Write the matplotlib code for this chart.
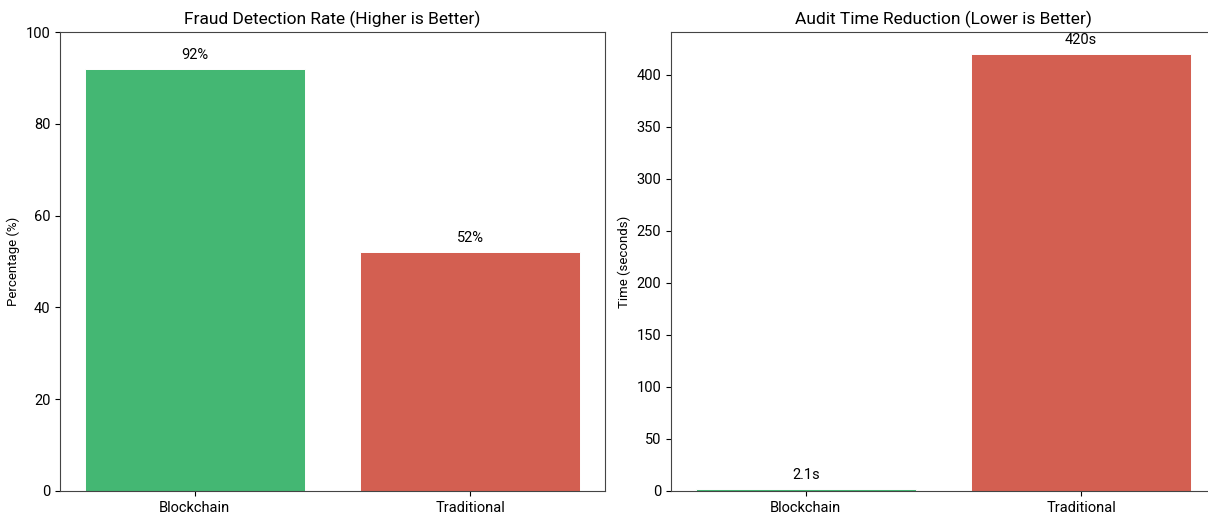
import matplotlib
matplotlib.use("Agg")
import matplotlib.pyplot as plt

plt.rcParams['font.family'] = ['Roboto', 'DejaVu Sans']

methods = ["Blockchain", "Traditional"]
detection_rate = [92, 52]
audit_time = [2.1, 420]
time_labels = ["2.1s", "420s"]
bar_colors = ["#44b773", "#d35f51"]

fig = plt.figure(figsize=(12.08, 5.13), dpi=100)
W, H = 1208, 513
ax1 = fig.add_axes([60 / W, 22 / H, 545 / W, 459 / H])
ax2 = fig.add_axes([671 / W, 22 / H, 545 / W, 459 / H])

# Fraud detection panel.
bars1 = ax1.bar(methods, detection_rate, color=bar_colors, width=0.8,
                edgecolor="white", linewidth=0.7)
ax1.set_ylim(0, 100)
ax1.set_title("Fraud Detection Rate (Higher is Better)", fontsize=12.5)
ax1.set_ylabel("Percentage (%)", fontsize=9.5)
for bar, val in zip(bars1, detection_rate):
    ax1.annotate(f"{val}%", (bar.get_x() + bar.get_width() / 2, bar.get_height()),
                 xytext=(0, 5), textcoords="offset points",
                 ha="center", va="bottom", fontsize=10.5)

# Audit time panel.
bars2 = ax2.bar(methods, audit_time, color=bar_colors, width=0.8,
                edgecolor="white", linewidth=0.7)
ax2.set_ylim(0, max(audit_time) * 1.05)
ax2.set_title("Audit Time Reduction (Lower is Better)", fontsize=12.5)
ax2.set_ylabel("Time (seconds)", fontsize=9.5)
for bar, lab in zip(bars2, time_labels):
    ax2.annotate(lab, (bar.get_x() + bar.get_width() / 2, bar.get_height()),
                 xytext=(0, 5), textcoords="offset points",
                 ha="center", va="bottom", fontsize=10.5)

for ax in (ax1, ax2):
    ax.tick_params(labelsize=10.5)
    for sp in ax.spines.values():
        sp.set_color("#444444")

fig.savefig("out.png")
